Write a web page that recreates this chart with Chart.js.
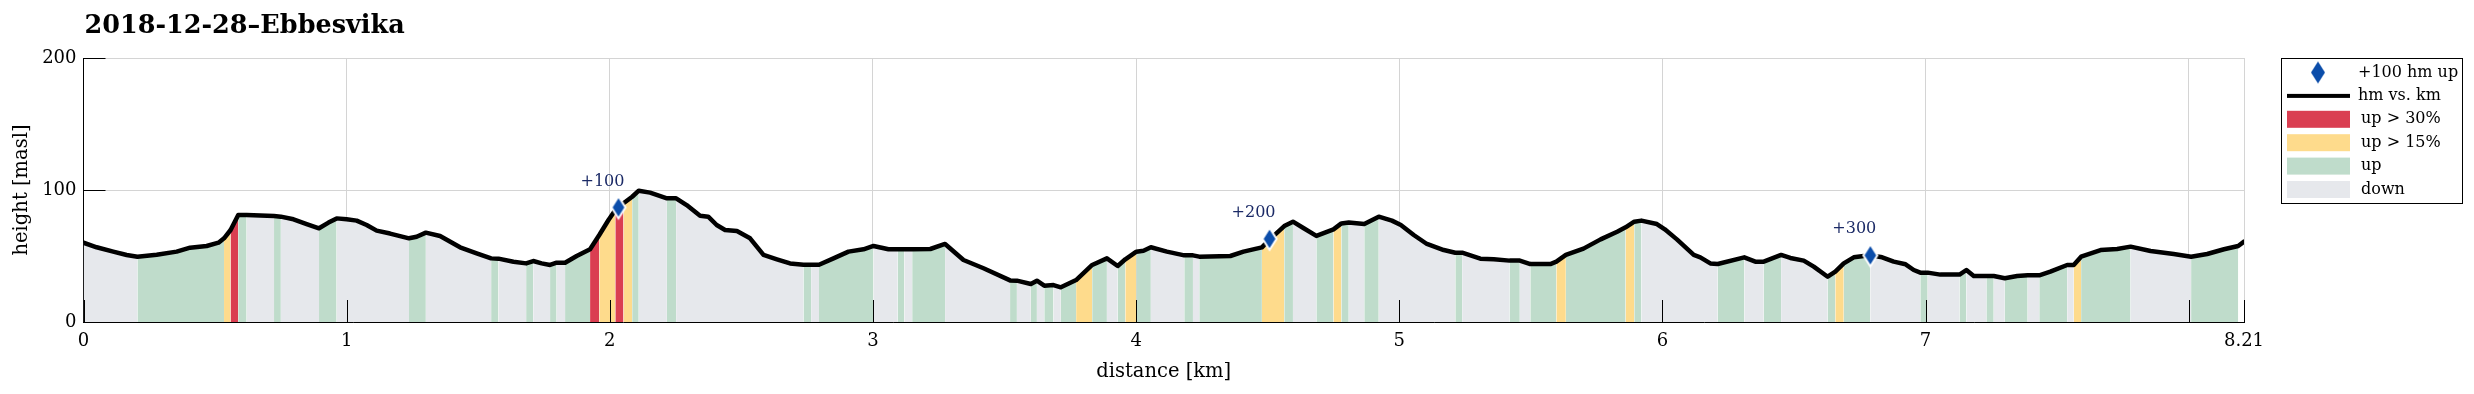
<!DOCTYPE html>
<html>
<head>
<meta charset="utf-8">
<script src="https://cdn.jsdelivr.net/npm/chart.js@4.4.0/dist/chart.umd.min.js"></script>
<style>
  html, body { margin: 0; padding: 0; background: #fff; }
  #wrap { width: 2474px; height: 394px; }
</style>
</head>
<body>
<div id="wrap"><canvas id="profile" width="2474" height="394"></canvas></div>
<script>
// profile vertices (km, m) and grade class of each segment starting at that vertex
const distKm = [
  0.000, 0.050, 0.113, 0.164, 0.205, 0.278, 0.354, 0.405, 0.468, 0.513,
  0.534, 0.559, 0.588, 0.620, 0.724, 0.750, 0.798, 0.848, 0.895, 0.931,
  0.962, 1.000, 1.038, 1.076, 1.114, 1.165, 1.237, 1.266, 1.301, 1.355,
  1.431, 1.494, 1.549, 1.577, 1.634, 1.682, 1.709, 1.741, 1.773, 1.798,
  1.830, 1.874, 1.925, 1.960, 1.995, 2.021, 2.052, 2.085, 2.110, 2.153,
  2.217, 2.252, 2.292, 2.343, 2.374, 2.406, 2.438, 2.483, 2.533, 2.584,
  2.635, 2.685, 2.736, 2.765, 2.795, 2.850, 2.907, 2.964, 3.002, 3.059,
  3.094, 3.119, 3.149, 3.218, 3.274, 3.344, 3.420, 3.521, 3.547, 3.600,
  3.623, 3.651, 3.686, 3.714, 3.772, 3.833, 3.889, 3.930, 3.959, 4.001,
  4.028, 4.056, 4.117, 4.183, 4.216, 4.240, 4.358, 4.408, 4.478, 4.510,
  4.563, 4.596, 4.637, 4.685, 4.750, 4.780, 4.808, 4.867, 4.922, 4.972,
  5.006, 5.055, 5.105, 5.169, 5.213, 5.239, 5.308, 5.359, 5.419, 5.458,
  5.498, 5.574, 5.597, 5.633, 5.700, 5.765, 5.828, 5.860, 5.893, 5.920,
  5.979, 6.009, 6.055, 6.119, 6.144, 6.182, 6.210, 6.311, 6.353, 6.385,
  6.451, 6.486, 6.537, 6.575, 6.628, 6.657, 6.689, 6.727, 6.765, 6.790,
  6.835, 6.879, 6.924, 6.955, 6.980, 7.008, 7.056, 7.129, 7.155, 7.183,
  7.231, 7.259, 7.301, 7.348, 7.388, 7.432, 7.474, 7.538, 7.563, 7.591,
  7.665, 7.728, 7.779, 7.855, 7.943, 8.009, 8.070, 8.134, 8.188, 8.210
];
const heightM = [
  60.1, 56.6, 53.3, 50.8, 49.5, 51.0, 53.3, 56.3, 57.6, 60.1,
  63.4, 69.7, 81.1, 81.1, 80.3, 79.8, 77.8, 74.2, 71.0, 75.3,
  78.5, 77.8, 76.8, 73.5, 69.2, 67.0, 63.4, 64.6, 67.7, 65.2,
  56.6, 52.0, 48.2, 48.0, 45.7, 44.4, 46.2, 44.4, 43.2, 44.9,
  44.9, 50.0, 55.1, 65.9, 77.3, 84.8, 89.9, 94.9, 99.5, 98.0,
  93.7, 93.7, 88.6, 80.5, 79.8, 73.5, 69.7, 68.9, 63.4, 50.8,
  47.5, 44.4, 43.4, 43.4, 43.4, 48.2, 53.3, 55.1, 57.6, 55.1,
  55.1, 55.1, 55.1, 55.3, 59.1, 47.0, 40.7, 31.5, 31.3, 28.8,
  31.3, 27.5, 28.0, 26.3, 31.8, 43.2, 48.2, 42.4, 47.5, 53.3,
  54.0, 56.6, 53.3, 50.5, 50.5, 49.5, 50.0, 53.3, 56.5, 63.0,
  72.7, 76.0, 71.0, 65.2, 70.2, 74.7, 75.3, 74.2, 79.8, 76.8,
  73.5, 65.9, 59.1, 54.5, 52.5, 52.5, 48.0, 47.5, 46.5, 46.5,
  43.9, 43.9, 45.7, 50.8, 55.6, 62.6, 68.4, 71.7, 76.0, 76.8,
  74.2, 70.2, 62.6, 50.8, 49.0, 44.4, 43.9, 49.0, 45.7, 45.7,
  50.8, 48.5, 46.5, 41.9, 34.3, 38.1, 44.4, 49.0, 50.0, 50.5,
  49.0, 45.7, 43.7, 39.4, 37.4, 37.4, 35.9, 35.9, 39.4, 34.8,
  34.8, 34.8, 33.1, 34.8, 35.4, 35.4, 38.1, 43.2, 43.2, 49.5,
  54.5, 55.3, 57.1, 53.8, 51.5, 49.5, 51.5, 55.1, 57.6, 60.9
];
// r: up > 30%, y: up > 15%, u: up, d: down, n: nothing
const gradeClass = [
  'd','d','d','d','u','u','u','u','u','u',
  'y','r','u','d','u','d','d','d','u','u',
  'd','d','d','d','d','d','u','u','d','d',
  'd','d','u','d','d','u','d','d','u','d',
  'u','u','r','y','y','r','y','u','d','d',
  'u','d','d','d','d','d','d','d','d','d',
  'd','d','u','d','u','u','u','u','d','d',
  'u','d','u','u','d','d','d','u','d','u',
  'd','u','d','u','y','u','d','u','y','u',
  'u','d','d','u','d','u','u','u','y','y',
  'u','d','d','u','y','u','d','u','d','d',
  'd','d','d','d','u','d','d','d','u','d',
  'u','u','y','u','u','u','u','y','u','d',
  'd','d','d','d','d','d','u','d','d','u',
  'd','d','d','d','u','y','u','u','u','d',
  'd','d','d','d','u','d','d','u','d','d',
  'u','d','u','u','d','u','u','d','y','u',
  'u','u','d','d','d','u','u','u','n'
];
const markKm = [2.033, 4.507, 6.790];
const markH = [86.8, 63.0, 50.5];
const markText = ['+100', '+200', '+300'];
const xTicks = [0, 1, 2, 3, 4, 5, 6, 7, 8, 8.21];
const yTicks = [0, 100, 200];
const legendText = ['+100 hm up', 'hm vs. km', 'up > 30%', 'up > 15%', 'up', 'down'];

const gradeFill = { r: '#DA3E51', y: '#FEDB8C', u: '#BFDCCB', d: '#E6E8EC', n: 'rgba(255,255,255,0)' };
const serif = '"DejaVu Serif", "Liberation Serif", serif';

function makeDiamond(withEdge) {
  const cv = document.createElement('canvas');
  cv.width = 20;
  cv.height = 28;
  const g = cv.getContext('2d');
  g.beginPath();
  g.moveTo(10, 3); g.lineTo(17, 14); g.lineTo(10, 25); g.lineTo(3, 14);
  g.closePath();
  g.fillStyle = '#0B4DAA';
  g.fill();
  if (withEdge) {
    g.strokeStyle = '#fff';
    g.lineWidth = 2;
    g.stroke();
  }
  return cv;
}
const diamond = makeDiamond(true);
const legendDiamond = makeDiamond(false);

const profilePts = distKm.map((x, i) => ({ x: x, y: heightM[i] }));
const markPts = markKm.map((x, i) => ({ x: x, y: markH[i] }));

const decor = {
  id: 'decor',
  afterDatasetsDraw(chart) {
    const { ctx, chartArea: a, scales: { x, y } } = chart;
    ctx.save();
    // inward tick marks like the original axes
    ctx.strokeStyle = '#000';
    ctx.lineWidth = 1;
    ctx.beginPath();
    xTicks.forEach(v => {
      const px = Math.round(x.getPixelForValue(v)) + 0.5;
      ctx.moveTo(px, a.bottom);
      ctx.lineTo(px, a.bottom - 22);
    });
    yTicks.forEach(v => {
      const py = Math.round(y.getPixelForValue(v)) + 0.5;
      ctx.moveTo(a.left, py);
      ctx.lineTo(a.left + 22, py);
    });
    ctx.stroke();

    // labels over the +100 m markers
    const meta = chart.getDatasetMeta(0);
    ctx.font = '16px ' + serif;
    ctx.fillStyle = '#1B2A66';
    ctx.textAlign = 'center';
    ctx.textBaseline = 'middle';
    meta.data.forEach((pt, i) => {
      ctx.fillText(markText[i], pt.x - 16, pt.y - 26);
    });
    ctx.restore();
  },
  afterDraw(chart) {
    const { ctx, chartArea: a } = chart;
    ctx.save();
    ctx.fillStyle = '#000';
    ctx.font = 'bold 25.5px ' + serif;
    ctx.textAlign = 'left';
    ctx.textBaseline = 'alphabetic';
    ctx.fillText('2018-12-28\u2013Ebbesvika', a.left + 1, 33);

    // legend box
    const lx = a.right + 37, ly = a.top;
    ctx.strokeStyle = '#000';
    ctx.lineWidth = 1;
    ctx.strokeRect(lx + 0.5, ly + 0.5, 181, 145);
    const sw = lx + 6, swW = 63;
    const rows = legendText.map((t, i) => ly + 14.5 + i * 23.4);
    ctx.drawImage(legendDiamond, lx + 37 - 10, rows[0] - 14);
    ctx.fillStyle = '#000';
    ctx.fillRect(sw, rows[1] - 2, swW, 4);
    ['r', 'y', 'u', 'd'].forEach((k, i) => {
      ctx.fillStyle = gradeFill[k];
      ctx.fillRect(sw, rows[i + 2] - 8.5, swW, 17);
    });
    ctx.fillStyle = '#000';
    ctx.font = '16px ' + serif;
    ctx.textBaseline = 'middle';
    legendText.forEach((t, i) => {
      ctx.fillText(t, lx + (i < 2 ? 77 : 80), rows[i]);
    });
    ctx.restore();
  }
};

new Chart(document.getElementById('profile'), {
  type: 'line',
  data: {
    datasets: [
      {
        label: '+100 hm up',
        data: markPts,
        showLine: false,
        pointStyle: diamond,
        pointRadius: 10,
        order: 0
      },
      {
        label: 'hm vs. km',
        data: profilePts,
        borderColor: '#000',
        borderWidth: 4.5,
        borderJoinStyle: 'round',
        borderCapStyle: 'round',
        pointRadius: 0,
        fill: false,
        tension: 0,
        order: 1
      },
      {
        label: 'grade',
        data: profilePts,
        borderWidth: 0,
        borderColor: 'rgba(0,0,0,0)',
        backgroundColor: gradeFill.d,
        pointRadius: 0,
        fill: 'origin',
        tension: 0,
        segment: {
          backgroundColor: c => gradeFill[gradeClass[c.p0DataIndex]]
        },
        order: 2
      }
    ]
  },
  options: {
    responsive: false,
    animation: false,
    devicePixelRatio: 1,
    layout: { padding: { left: 0, top: 58, right: 230, bottom: 0 } },
    plugins: {
      legend: { display: false },
      tooltip: { enabled: false },
      title: { display: false }
    },
    scales: {
      x: {
        type: 'linear',
        min: 0,
        max: 8.21,
        afterBuildTicks: s => { s.ticks = xTicks.map(v => ({ value: v })); },
        afterFit: s => { s.height = 72; },
        ticks: {
          autoSkip: false,
          maxRotation: 0,
          padding: 9,
          color: '#000',
          font: { family: serif, size: 18 },
          callback: v => (v === 8 ? '' : String(v))
        },
        grid: { color: '#d4d4d4', drawTicks: false },
        border: { color: '#000', width: 1 },
        title: {
          display: true,
          text: 'distance [km]',
          color: '#000',
          font: { family: serif, size: 19.5 },
          padding: { top: 0, bottom: 10.3 }
        }
      },
      y: {
        min: 0,
        max: 200,
        afterBuildTicks: s => { s.ticks = yTicks.map(v => ({ value: v })); },
        afterFit: s => { s.width = 83.5; },
        ticks: {
          padding: 7,
          color: '#000',
          font: { family: serif, size: 18 }
        },
        grid: { color: '#d4d4d4', drawTicks: false },
        border: { color: '#000', width: 1 },
        title: {
          display: true,
          text: 'height [masl]',
          color: '#000',
          font: { family: serif, size: 19.5 },
          padding: { top: 10.3, bottom: 0 }
        }
      }
    }
  },
  plugins: [decor]
});
</script>
</body>
</html>
